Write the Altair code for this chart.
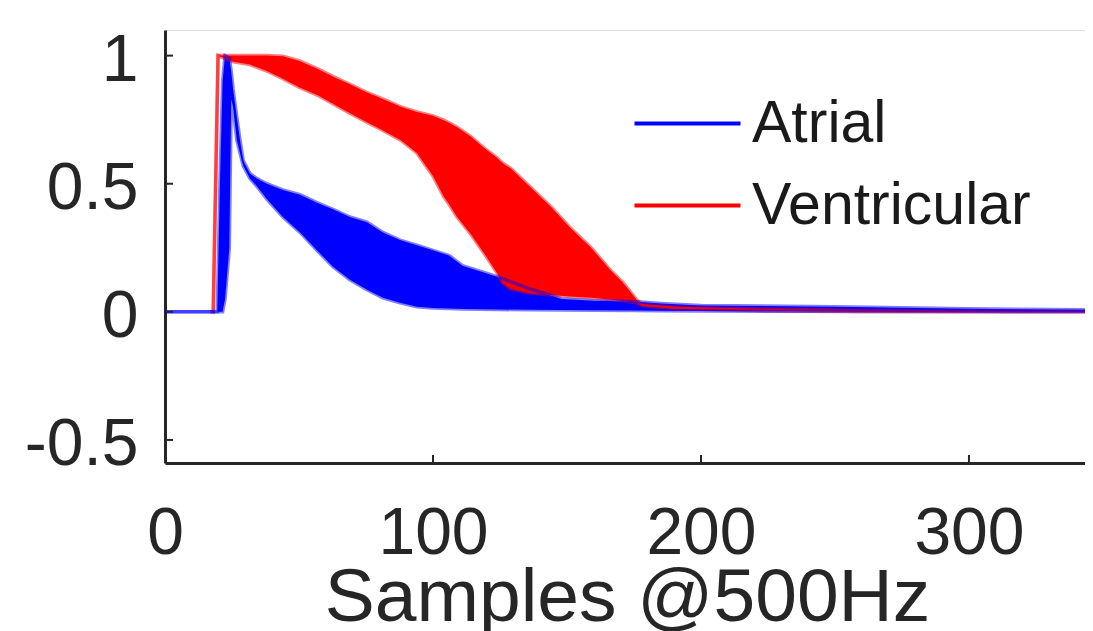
import altair as alt
import pandas as pd

# ---------------- data ----------------
SERIES = ["Atrial", "Ventricular"]
COLORS = ["#0000ff", "#ff0000"]

# Ventricular family: upper and lower envelope of the many overlapping red curves
RED_X = [17, 18, 19.8, 25, 31.7, 38, 44, 50, 57, 63, 69, 75, 81, 88, 94, 100, 104, 106, 109,
         114, 119, 124, 126, 129, 136, 144, 151, 159, 166, 171, 176, 178, 190, 220, 260, 300, 343.3]
RED_TOP = [0, 0, 1.0, 1.0, 1.0, 1.0, 0.998, 0.98, 0.948, 0.917, 0.888, 0.858, 0.832, 0.80, 0.78,
           0.765, 0.748, 0.738, 0.72, 0.685, 0.64, 0.60, 0.58, 0.56, 0.49, 0.41, 0.33, 0.25, 0.165,
           0.113, 0.047, 0.03, 0.02, 0.012, 0.006, 0.003, 0.002]
RED_BOTTOM = [0, 0, 1.0, 0.977, 0.965, 0.94, 0.91, 0.877, 0.845, 0.81, 0.775, 0.742, 0.71, 0.67,
              0.62, 0.53, 0.45, 0.42, 0.37, 0.305, 0.23, 0.15, 0.113, 0.09, 0.074, 0.066, 0.06,
              0.055, 0.048, 0.042, 0.035, 0.025, 0.012, 0.005, 0.0, 0.0, 0.0]

# Atrial family: upper and lower envelope of the many overlapping blue curves
BLUE_X = [0, 19.5, 20.5, 21.5, 22.4, 24, 24.7, 25.4, 26.8, 28, 29.2, 31.7, 34.3, 38, 44, 50.4,
          56.7, 62.7, 69, 75.4, 81.3, 87.7, 94, 100, 106, 111, 124, 136, 148, 160, 175, 185, 200,
          250, 300, 343.3]
BLUE_TOP = [0, 0, 0.5, 0.9, 1.0, 0.99, 0.94, 0.87, 0.76, 0.67, 0.59, 0.54, 0.52, 0.50, 0.476,
            0.457, 0.426, 0.40, 0.37, 0.35, 0.31, 0.28, 0.26, 0.24, 0.22, 0.18, 0.137, 0.09, 0.05,
            0.043, 0.04, 0.033, 0.025, 0.02, 0.012, 0.008]
BLUE_BOTTOM = [0, 0, 0.0, 0.0, 0.05, 0.25, 0.83, 0.80, 0.67, 0.62, 0.57, 0.52, 0.49, 0.44, 0.37,
               0.31, 0.24, 0.176, 0.125, 0.086, 0.055, 0.035, 0.02, 0.015, 0.013, 0.011, 0.009,
               0.008, 0.007, 0.006, 0.005, 0.004, 0.003, 0.002, 0.001, 0.0]

X_TICKS = [0, 100, 200, 300]
Y_TICKS = [-0.5, 0, 0.5, 1]
X_DOMAIN = [0, 343.3]
Y_DOMAIN = [-0.59, 1.1]
X_TITLE = "Samples @500Hz"

# ---------------- tables ----------------
red_band = pd.DataFrame({"x": RED_X, "y": RED_TOP, "y2": RED_BOTTOM})
blue_band = pd.DataFrame({"x": BLUE_X, "y": BLUE_TOP, "y2": BLUE_BOTTOM})
lines = pd.concat([
    pd.DataFrame({"x": RED_X, "y": RED_TOP, "type": "Ventricular", "curve": "v_top"}),
    pd.DataFrame({"x": RED_X, "y": RED_BOTTOM, "type": "Ventricular", "curve": "v_bottom"}),
    pd.DataFrame({"x": BLUE_X, "y": BLUE_TOP, "type": "Atrial", "curve": "a_top"}),
    pd.DataFrame({"x": BLUE_X, "y": BLUE_BOTTOM, "type": "Atrial", "curve": "a_bottom"}),
], ignore_index=True)
xticks = pd.DataFrame({"x": X_TICKS})
yticks = pd.DataFrame({"y": Y_TICKS})

FONT = "Liberation Sans"
INK = "#262626"
W, H = 920, 433

xs = alt.Scale(domain=X_DOMAIN, nice=False, zero=False)
ys = alt.Scale(domain=Y_DOMAIN, nice=False, zero=False)

AX_X = alt.Axis(values=X_TICKS, title=X_TITLE, grid=False, ticks=False, tickSize=0,
                domainColor=INK, domainWidth=3, labelFont=FONT, labelFontSize=66,
                labelColor=INK, labelPadding=90, labelBaseline="alphabetic",
                labelFlush=False, labelOverlap=False, labelExpr="datum.value + ''",
                titleFont=FONT, titleFontSize=75, titleFontWeight="normal", titleColor=INK,
                titleBaseline="alphabetic", titleY=157, titleX=462, titleAlign="center")
AX_Y = alt.Axis(values=Y_TICKS, title=None, grid=False, ticks=False, tickSize=0,
                domainColor=INK, domainWidth=3, labelFont=FONT, labelFontSize=66,
                labelColor=INK, labelPadding=27, labelBaseline="middle", labelOffset=5,
                labelFlush=False, labelOverlap=False, labelExpr="datum.value + ''")

X = alt.X("x:Q", scale=xs, axis=AX_X)
Y = alt.Y("y:Q", scale=ys, axis=AX_Y)

blue_area = alt.Chart(blue_band).mark_area(color="#0000ff", opacity=1, clip=True).encode(
    x=X, y=Y, y2="y2:Q")
red_area = alt.Chart(red_band).mark_area(color="#ff0000", opacity=1, clip=True).encode(
    x=X, y=Y, y2="y2:Q")

line_layer = alt.Chart(lines).mark_line(strokeWidth=3.5, opacity=0.5, clip=True).encode(
    x=X, y=Y,
    color=alt.Color("type:N", scale=alt.Scale(domain=SERIES, range=COLORS),
                    legend=alt.Legend(title=None, orient="none", legendX=493, legendY=64,
                                      symbolType="M-2,0H2", symbolSize=2809,
                                      symbolStrokeWidth=4, symbolOpacity=1,
                                      labelFont=FONT, labelFontSize=59, labelColor="#1a1a1a",
                                      labelOffset=35, labelLimit=600, rowPadding=22,
                                      padding=0)),
    detail="curve:N",
)

ytick_layer = alt.Chart(yticks).mark_rule(color=INK, strokeWidth=2).encode(
    y=Y, x=alt.value(0), x2=alt.value(8))
xtick_layer = alt.Chart(xticks).mark_rule(color=INK, strokeWidth=2).encode(
    x=X, y=alt.value(H), y2=alt.value(H - 8))

chart = alt.layer(blue_area, red_area, line_layer, ytick_layer, xtick_layer).properties(
    width=W, height=H,
    autosize=alt.AutoSizeParams(type="none"),
    padding={"left": 157, "top": 22, "right": 0, "bottom": 168},
).configure_view(stroke=None).configure(background="white")

chart.save("out.html", embed_options={"renderer": "svg", "actions": False})
